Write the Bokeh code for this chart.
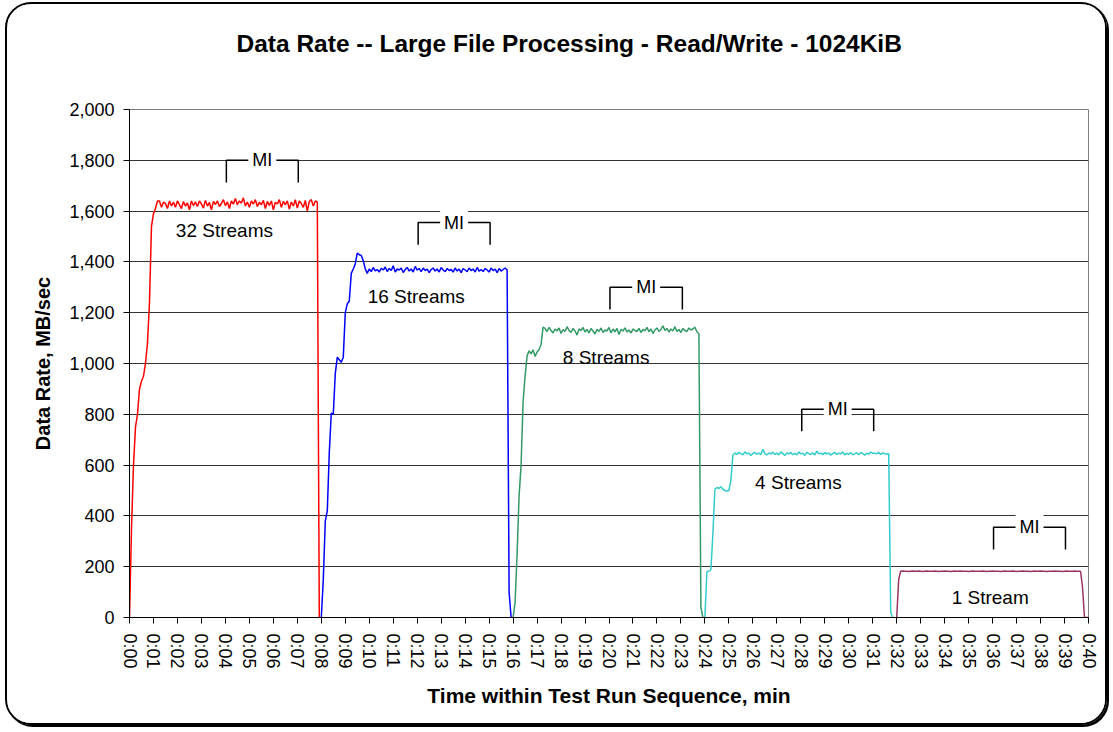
from bokeh.plotting import figure
from bokeh.models import Range1d, FixedTicker, NumeralTickFormatter, Label, Title
from bokeh.embed import file_html
from bokeh.resources import INLINE

TITLE = "Data Rate -- Large File Processing - Read/Write - 1024KiB"
X_LABEL = "Time within Test Run Sequence, min"
Y_LABEL = "Data Rate, MB/sec"

minutes = list(range(41))
minute_labels = ["0:%02d" % m for m in minutes]
y_ticks = list(range(0, 2001, 200))

SAMPLE_MIN = 5.0 / 60.0  # one sample every 5 seconds

# ---- 32 streams (red), starts at 0:00
red_ramp = [0, 350, 600, 750, 800, 900, 930, 950, 1000, 1080, 1240, 1540, 1590, 1610, 1640]
red_plateau = [
    1640, 1615, 1635, 1630, 1610, 1640, 1620, 1635, 1615,
    1640, 1625, 1610, 1638, 1620, 1632, 1605, 1640, 1622, 1636,
    1618, 1640, 1628, 1612, 1642, 1620, 1634, 1605, 1638, 1626,
    1640, 1618, 1630, 1645, 1622, 1636, 1610, 1640, 1628, 1650,
    1625, 1640, 1632, 1652, 1620, 1636, 1615, 1640, 1628, 1645,
    1618, 1635, 1625, 1642, 1610, 1638, 1622, 1640, 1605, 1635,
    1628, 1645, 1615, 1638, 1625, 1640, 1608, 1636, 1620, 1645,
    1612, 1640, 1630, 1615, 1642, 1600, 1638, 1645, 1620, 1640,
    1635,
]
red_tail = [0]

# ---- 16 streams (blue), starts at 0:08
blue_ramp = [0, 150, 380, 420, 650, 805, 800, 960, 1025, 1015, 1005, 1025, 1200, 1235,
             1245, 1355, 1372, 1392, 1435, 1428, 1425, 1405, 1373, 1355]
blue_plateau = [
    1372, 1362, 1378, 1365, 1370, 1360, 1375, 1368, 1380, 1362,
    1374, 1366, 1385, 1360, 1372, 1368, 1376, 1358, 1370, 1378,
    1364, 1372, 1360, 1382, 1368, 1374, 1362, 1376, 1366, 1372,
    1358, 1370, 1376, 1364, 1372, 1360, 1378, 1368, 1362, 1374,
    1366, 1370, 1360, 1376, 1364, 1372, 1358, 1374, 1368, 1362,
    1376, 1366, 1372, 1360, 1378, 1364, 1370, 1362, 1374, 1368,
    1360, 1376, 1366, 1372, 1358, 1374, 1364, 1370, 1376,
]
blue_tail = [1368, 100, 0]

# ---- 8 streams (green), starts at 0:16
green_ramp = [0, 60, 250, 480, 600, 850, 950, 1030, 1050, 1038, 1054, 1028, 1045, 1055, 1075, 1143]
green_plateau = [
    1138, 1126, 1142, 1130, 1120, 1136, 1128, 1140, 1118, 1134,
    1126, 1145, 1130, 1122, 1138, 1128, 1112, 1136, 1130, 1142,
    1124, 1134, 1120, 1138, 1128, 1116, 1135, 1126, 1140, 1122,
    1132, 1128, 1142, 1120, 1136, 1125, 1138, 1114, 1134, 1128,
    1140, 1124, 1132, 1120, 1136, 1130, 1126, 1138, 1122, 1134,
    1128, 1142, 1125, 1136, 1118, 1132, 1140, 1126, 1134, 1148,
    1130, 1138, 1124, 1136, 1128, 1145, 1126, 1134, 1122, 1138,
    1130, 1126, 1140, 1132, 1136,
]
green_tail = [1143, 1125, 1117, 40, 0]

# ---- 4 streams (cyan), starts at 0:24
cyan_ramp = [0, 180, 182, 188, 330, 505, 512, 508, 515, 505, 500, 498, 500, 540, 640]
cyan_plateau = [
    648, 642, 650, 645, 640, 652, 644, 648, 638, 646,
    650, 643, 647, 641, 662, 645, 640, 648, 644, 650,
    642, 647, 640, 652, 645, 638, 648, 644, 650, 641,
    646, 640, 652, 644, 647, 638, 650, 645, 642, 648,
    640, 655, 644, 647, 641, 650, 643, 648, 639, 646,
    650, 642, 647, 644, 652, 640, 646, 643, 649, 641,
    644, 648, 641, 650, 645, 639, 647, 643, 651, 646,
    647, 644, 650, 642, 648, 645, 643,
]
cyan_tail = [645, 20, 0]

# ---- 1 stream (purple), starts at 0:32
purple_ramp = [0, 150]
purple_plateau = [
    182, 183, 182, 182, 181, 182, 183, 182, 182, 183,
    182, 181, 182, 183, 182, 182, 182, 183, 182, 181,
    182, 182, 183, 182, 182, 181, 182, 183, 182, 182,
    183, 182, 182, 182, 181, 182, 183, 182, 182, 182,
    182, 183, 182, 181, 182, 182, 183, 182, 182, 182,
    181, 182, 183, 182, 182, 182, 183, 182, 181, 182,
    182, 183, 182, 182, 182, 181, 182, 183, 182, 182,
    183, 182, 182, 181, 182, 182, 182, 183, 182, 182,
    182, 181, 182, 183, 182, 182, 182, 183, 182, 182,
    182,
]
purple_tail = [120, 0, 0, 0]

series_start = [0, 8, 16, 24, 32]
series_values = [
    red_ramp + red_plateau + red_tail,
    blue_ramp + blue_plateau + blue_tail,
    green_ramp + green_plateau + green_tail,
    cyan_ramp + cyan_plateau + cyan_tail,
    purple_ramp + purple_plateau + purple_tail,
]
series_colors = ["#FF0000", "#0000FF", "#339966", "#33CCCC", "#993366"]

stream_names = ["32 Streams", "16 Streams", "8 Streams", "4 Streams", "1 Stream"]
stream_label_x = [3.96, 11.96, 19.88, 27.9, 35.9]
stream_label_y = [1524, 1264, 1022, 531, 77]

mi_start = [4.04, 12.04, 20.04, 28.04, 36.04]
mi_end = [7.04, 15.04, 23.06, 31.04, 39.04]
mi_top = [1800, 1555, 1300, 820, 355]
MI_LEG = 87

FONT = "Liberation Sans"

p = figure(width=1102, height=723, output_backend="svg", toolbar_location=None,
           x_range=Range1d(0, 40), y_range=Range1d(0, 2000),
           min_border_left=122, min_border_right=21, min_border_top=105, min_border_bottom=110)
p.styles = {"border": "2px solid #000", "border-radius": "26px", "margin": "2px 0 0 5px",
            "box-shadow": "2px 2px 0 0 #000", "overflow": "hidden"}
p.background_fill_color = "white"
p.border_fill_color = "white"
p.outline_line_color = "#808080"
p.outline_line_width = 1

p.title.text = TITLE
p.title.align = "left"
p.title.offset = 107
p.title.standoff = 46
p.title.text_font = FONT
p.title.text_font_size = "24.5px"
p.title.text_font_style = "bold"
p.title.text_color = "black"

# blank spacer between the title and the plot frame
p.add_layout(Title(text=" ", text_font_size="2px", standoff=26, text_color="white"), "above")

p.xgrid.visible = False
p.ygrid.grid_line_color = "#333333"
p.ygrid.grid_line_width = 1
p.ygrid.ticker = FixedTicker(ticks=y_ticks)

p.xaxis.ticker = FixedTicker(ticks=minutes)
p.xaxis.major_label_overrides = {m: lab for m, lab in zip(minutes, minute_labels)}
p.xaxis.major_label_orientation = "vertical"
p.yaxis.ticker = FixedTicker(ticks=y_ticks)
p.yaxis.formatter = NumeralTickFormatter(format="0,0")

for ax in (p.xaxis[0], p.yaxis[0]):
    ax.axis_line_color = "black"
    ax.axis_line_width = 1
    ax.major_tick_line_color = "black"
    ax.major_tick_out = 6
    ax.major_tick_in = 0
    ax.minor_tick_line_color = None
    ax.major_label_text_font = FONT
    ax.major_label_text_font_size = "18px"
    ax.major_label_text_color = "black"
    ax.axis_label_text_font = FONT
    ax.axis_label_text_font_style = "bold"
    ax.axis_label_text_color = "black"

p.xaxis.axis_label = X_LABEL
p.xaxis.axis_label_text_font_size = "21px"
p.xaxis.major_label_standoff = 10
p.xaxis.axis_label_standoff = 12
p.yaxis.axis_label = Y_LABEL
p.yaxis.axis_label_text_font_size = "20px"
p.yaxis.major_label_standoff = 9
p.yaxis.axis_label_standoff = 12

for start, vals, col in zip(series_start, series_values, series_colors):
    xs = [start + i * SAMPLE_MIN for i in range(len(vals))]
    p.line(xs, vals, line_color=col, line_width=1.5)

for s, e, top in zip(mi_start, mi_end, mi_top):
    p.line([s, s, e, e], [top - MI_LEG, top, top, top - MI_LEG], line_color="black", line_width=1.5)
    p.add_layout(Label(x=(s + e) / 2, y=top, text="MI", text_align="center", text_baseline="middle",
                       text_font=FONT, text_font_size="18px", text_color="black",
                       background_fill_color="white", padding=4))

for name, lx, ly in zip(stream_names, stream_label_x, stream_label_y):
    p.add_layout(Label(x=lx, y=ly, text=name, text_align="center", text_baseline="middle",
                       text_font=FONT, text_font_size="19px", text_color="black"))

open("out.html", "w").write(file_html(p, INLINE))
